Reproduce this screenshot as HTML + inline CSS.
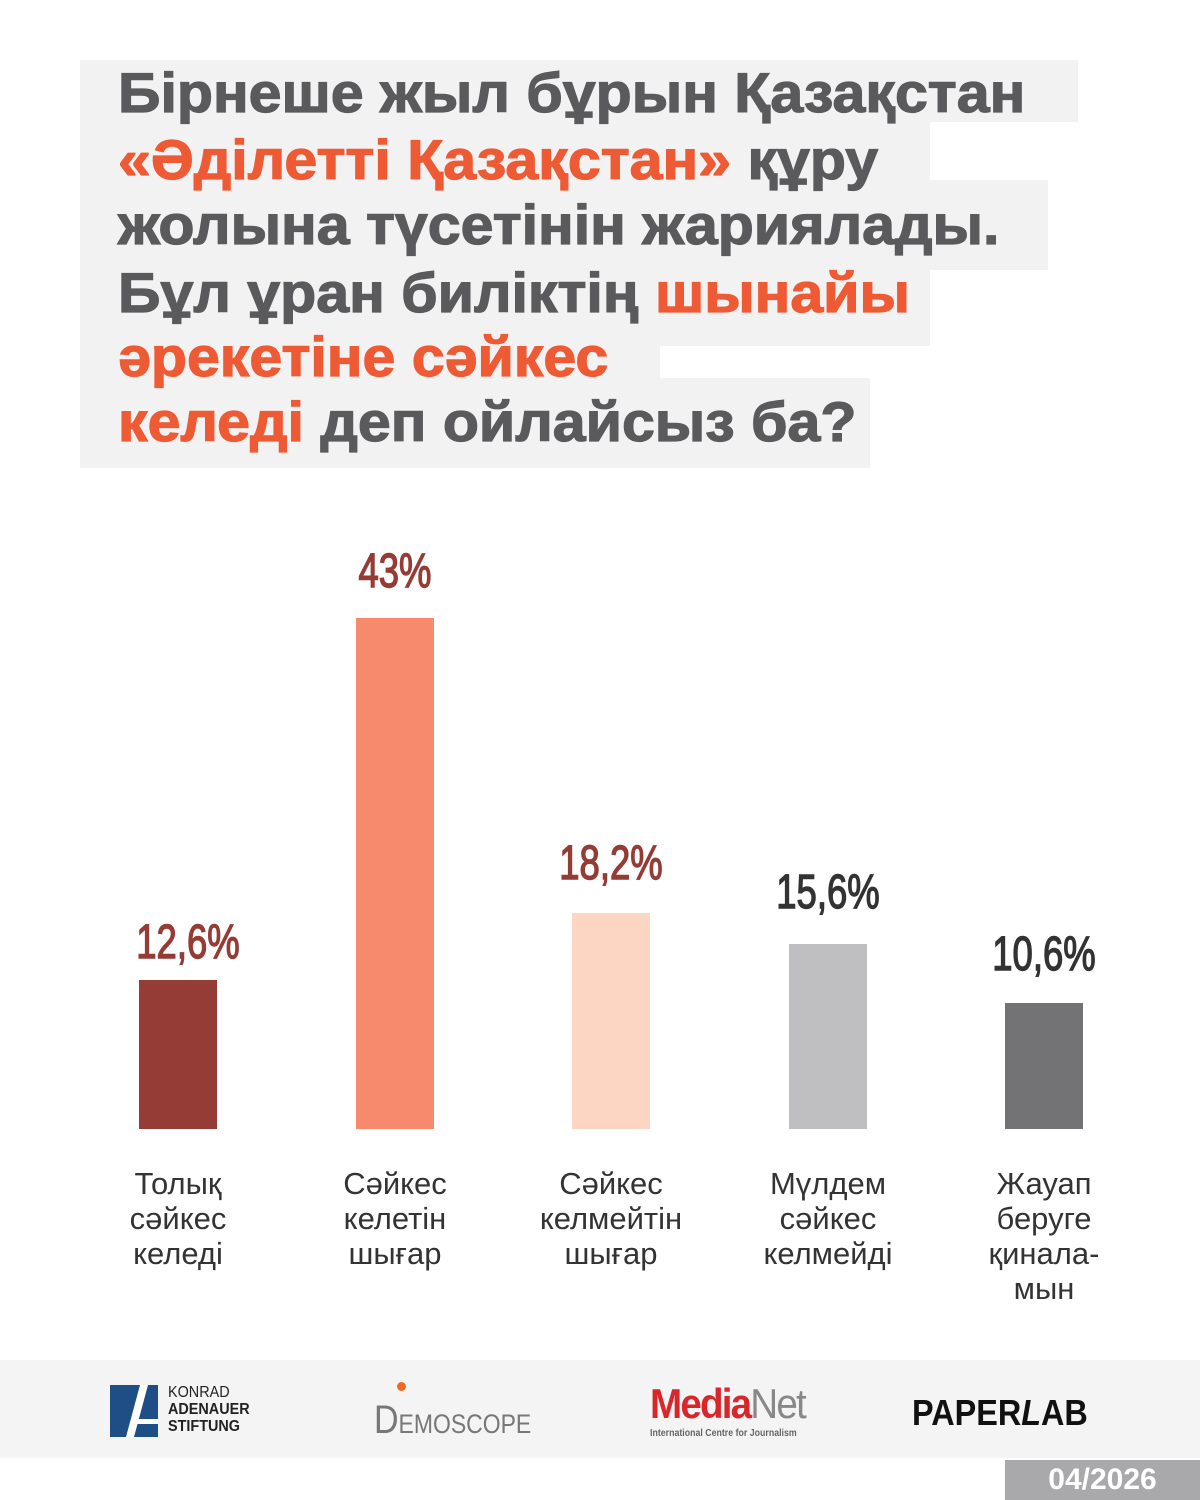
<!DOCTYPE html>
<html><head><meta charset="utf-8"><style>
body{margin:0;width:1200px;height:1500px;background:#fff;position:relative;overflow:hidden;font-family:"Liberation Sans","DejaVu Sans",sans-serif}
.bg{position:absolute;background:#f2f2f2}
.t{position:absolute;left:118px;font-weight:bold;font-size:56px;color:#5a5a5c;white-space:nowrap;transform:scaleX(1.055);transform-origin:left center;line-height:60px;-webkit-text-stroke:1.2px currentColor}
.o{color:#ee5a34}
.bar{position:absolute;width:78px}
.pct{position:absolute;width:200px;text-align:center;font-size:48px;font-weight:normal;transform:scaleX(0.76);line-height:50px;-webkit-text-stroke:1.4px currentColor}
.lab{position:absolute;width:240px;text-align:center;font-size:31px;color:#333;line-height:35px}
</style></head><body>
<div class="bg" style="left:80px;top:60px;width:998px;height:62px"></div>
<div class="bg" style="left:80px;top:120px;width:850px;height:62px"></div>
<div class="bg" style="left:80px;top:180px;width:968px;height:90px"></div>
<div class="bg" style="left:80px;top:268px;width:850px;height:78px"></div>
<div class="bg" style="left:80px;top:344px;width:580px;height:40px"></div>
<div class="bg" style="left:80px;top:378px;width:790px;height:90px"></div>
<div class="t" style="top:63px">Бірнеше жыл бұрын Қазақстан</div>
<div class="t" style="top:130px"><span class="o">«Әділетті Қазақстан»</span> құру</div>
<div class="t" style="top:195px">жолына түсетінін жариялады.</div>
<div class="t" style="top:263px">Бұл ұран биліктің <span class="o">шынайы</span></div>
<div class="t" style="top:327px"><span class="o">әрекетіне сәйкес</span></div>
<div class="t" style="top:392px"><span class="o">келеді</span> деп ойлайсыз ба?</div>

<div class="bar" style="left:139px;top:980px;height:149px;background:#943c35"></div>
<div class="bar" style="left:356px;top:618px;height:511px;background:#f78a6c"></div>
<div class="bar" style="left:572px;top:913px;height:216px;background:#fdd5c3"></div>
<div class="bar" style="left:789px;top:944px;height:185px;background:#bfbfc1"></div>
<div class="bar" style="left:1005px;top:1003px;height:126px;background:#737376"></div>

<div class="pct" style="left:88px;top:918px;color:#943c35">12,6%</div>
<div class="pct" style="left:295px;top:547px;color:#943c35">43%</div>
<div class="pct" style="left:511px;top:839px;color:#943c35">18,2%</div>
<div class="pct" style="left:728px;top:868px;color:#333">15,6%</div>
<div class="pct" style="left:944px;top:930px;color:#333">10,6%</div>

<div class="lab" style="left:58px;top:1166px">Толық<br>сәйкес<br>келеді</div>
<div class="lab" style="left:275px;top:1166px">Сәйкес<br>келетін<br>шығар</div>
<div class="lab" style="left:491px;top:1166px">Сәйкес<br>келмейтін<br>шығар</div>
<div class="lab" style="left:708px;top:1166px">Мүлдем<br>сәйкес<br>келмейді</div>
<div class="lab" style="left:924px;top:1166px">Жауап<br>беруге<br>қинала-<br>мын</div>

<div style="position:absolute;left:0;top:1360px;width:1200px;height:98px;background:#f4f4f4"></div>
<svg style="position:absolute;left:110px;top:1385px" width="50" height="52"><rect width="48" height="52" fill="#1f4e86"/><polygon points="30,0 38,0 24,52 16,52" fill="#fff"/><rect x="26" y="34" width="22" height="5" fill="#fff"/></svg>
<div style="position:absolute;left:168px;top:1384px;font-size:16px;line-height:17px;color:#222;transform:scaleX(0.9);transform-origin:left">KONRAD<br><b>ADENAUER<br>STIFTUNG</b></div>
<div style="position:absolute;left:374px;top:1398px;font-size:27px;color:#777;transform:scaleX(0.85);transform-origin:left"><span style="font-size:40px;font-weight:200">D</span>EMOSCOPE</div>
<div style="position:absolute;left:397px;top:1382px;width:9px;height:9px;border-radius:50%;background:#ee6a22"></div>
<div style="position:absolute;left:650px;top:1380px;font-size:42px;letter-spacing:-2px;transform:scaleX(0.92);transform-origin:left"><span style="color:#d8262a;font-weight:bold">Media</span><span style="color:#888">Net</span></div>
<div style="position:absolute;left:650px;top:1428px;font-size:10px;color:#666;font-weight:bold;transform:scaleX(0.88);transform-origin:left">International Centre for Journalism</div>
<div style="position:absolute;left:912px;top:1392px;font-size:36px;font-weight:bold;color:#111;transform:scaleX(0.9);transform-origin:left">PAPER<i>L</i>AB</div>
<div style="position:absolute;left:1005px;top:1460px;width:195px;height:40px;background:#a9a9ab;color:#fff;font-weight:bold;font-size:30px;text-align:center;line-height:40px">04/2026</div>
</body></html>
